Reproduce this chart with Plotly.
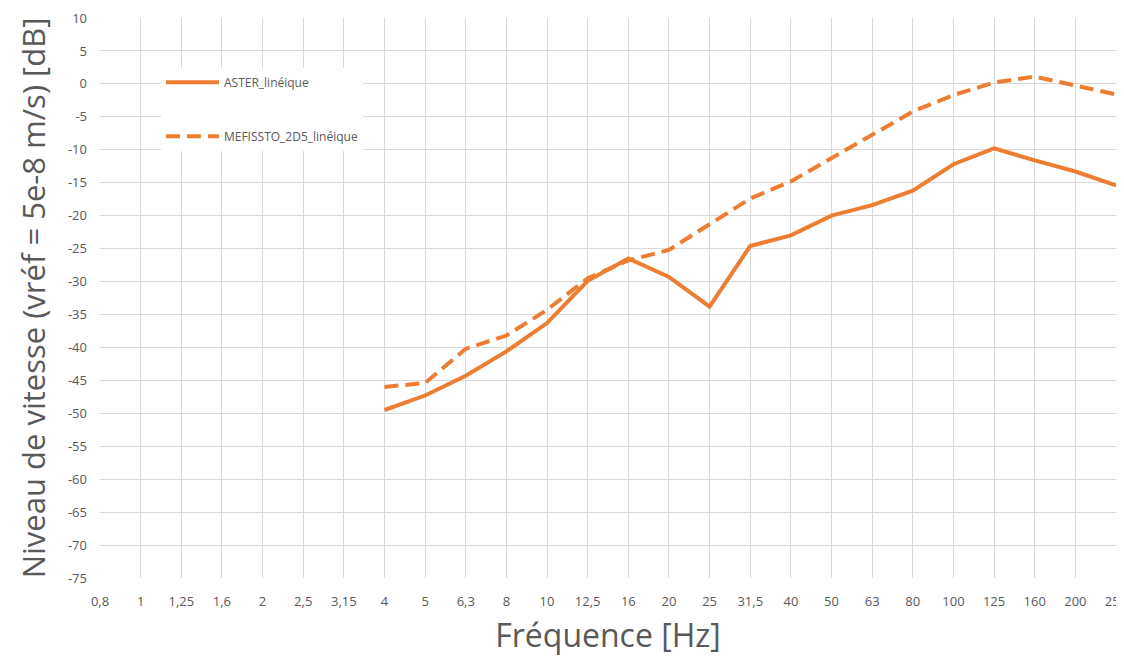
import plotly.graph_objects as go

# Data
freq_labels = ["0,8", "1", "1,25", "1,6", "2", "2,5", "3,15", "4", "5", "6,3", "8", "10",
               "12,5", "16", "20", "25", "31,5", "40", "50", "63", "80", "100", "125",
               "160", "200", "250"]
aster = [None, None, None, None, None, None, None,
         -49.5, -47.3, -44.3, -40.6, -36.3, -29.9, -26.5, -29.3, -33.8,
         -24.6, -23.0, -20.0, -18.4, -16.2, -12.2, -9.8, -11.6, -13.3, -15.4]
mefissto = [None, None, None, None, None, None, None,
            -46.0, -45.4, -40.2, -38.2, -34.3, -29.5, -26.8, -25.2, -21.3,
            -17.4, -14.8, -11.3, -7.8, -4.2, -1.7, 0.2, 1.1, -0.3, -1.6]
y_ticks = list(range(10, -80, -5))
y_ticktext = [str(v) for v in y_ticks]

ORANGE = "#ED7D31"
GRID = "#D9D9D9"
TXT = "#595959"
FONT = "Open Sans"

fig = go.Figure()
fig.add_trace(go.Scatter(x=freq_labels, y=aster, name="ASTER_linéique", mode="lines",
                         line=dict(color=ORANGE, width=4), legendgroup="a"))
fig.add_trace(go.Scatter(x=freq_labels, y=mefissto, name="MEFISSTO_2D5_linéique", mode="lines",
                         line=dict(color=ORANGE, width=4, dash="14px,7px"), legendgroup="b"))

# page body has an 8px default margin: figure is sized/offset to compensate
fig.update_layout(
    width=1116, height=648,
    margin=dict(l=92, r=8, t=10, b=78),
    paper_bgcolor="white", plot_bgcolor="white",
    font=dict(family=FONT, color=TXT),
    showlegend=True,
    legend=dict(x=0.060, y=0.911, xanchor="left", yanchor="top",
                bgcolor="white", borderwidth=0,
                font=dict(size=12, color=TXT, family=FONT),
                tracegroupgap=35, traceorder="grouped", itemwidth=53),
    xaxis=dict(type="category", range=[0, len(freq_labels) - 1], automargin=False,
               showgrid=True, gridcolor=GRID, gridwidth=1,
               showline=False, zeroline=False,
               tickfont=dict(size=13, color=TXT), ticks="", ticklabelstandoff=14,
               title=dict(text="Fréquence [Hz]", font=dict(size=32, color=TXT), standoff=17)),
    yaxis=dict(range=[-75, 10], tickvals=y_ticks, ticktext=y_ticktext, automargin=False,
               showgrid=True, gridcolor=GRID, gridwidth=1,
               showline=False, zeroline=False,
               tickfont=dict(size=13, color=TXT), ticks="", ticklabelstandoff=12,
               title=dict(text="Niveau de vitesse (vréf = 5e-8 m/s) [dB]",
                          font=dict(size=31, color=TXT), standoff=13)),
)

fig.write_html("out.html")
